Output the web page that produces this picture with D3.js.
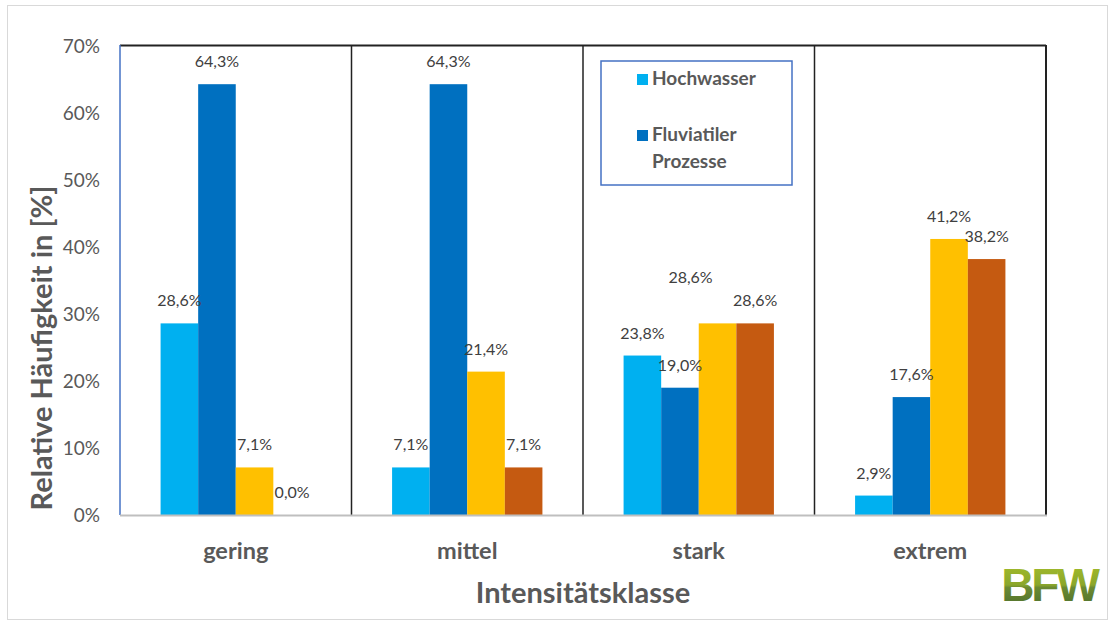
<html>
<head>
<title>Intensitaetsklasse</title>
<script src="https://cdn.jsdelivr.net/npm/d3@7"></script>
<style>
  body { margin: 0; background: #fff; }
  text { font-family: Lato, "Open Sans", sans-serif; }
</style>
</head>
<body>
<div id="chart"></div>
<script>
// data
var categories = ["gering", "mittel", "stark", "extrem"];
var seriesNames = ["Hochwasser", "Fluviatiler Prozesse", "Serie 3", "Serie 4"];
var hochwasser = [28.6, 7.1, 23.8, 2.9];
var fluviatil = [64.3, 64.3, 19.0, 17.6];
var serie3 = [7.1, 21.4, 28.6, 41.2];
var serie4 = [0.0, 7.1, 28.6, 38.2];
var yTicks = [0, 10, 20, 30, 40, 50, 60, 70];
var colors = ["#00b0f0", "#0070c0", "#ffc000", "#c55a11"];

var allSeries = [hochwasser, fluviatil, serie3, serie4];

var W = 1114, H = 624;
var plotLeft = 120, plotRight = 1046, plotTop = 46, plotBottom = 515;

var svg = d3.select("#chart").append("svg")
    .attr("width", W)
    .attr("height", H);

// outer chart border
svg.append("rect")
    .attr("x", 7.5).attr("y", 5.5)
    .attr("width", 1100).attr("height", 614)
    .attr("fill", "#fff")
    .attr("stroke", "#d9d9d9");

var x = d3.scaleBand().domain(categories).range([plotLeft, plotRight]).padding(0);
var inner = d3.scaleBand().domain(d3.range(4))
    .range([0, x.bandwidth()]).paddingOuter(1.08).paddingInner(0);
var y = d3.scaleLinear().domain([0, 70]).range([plotBottom, plotTop]);

// y axis tick labels
var yAxis = svg.append("g")
    .attr("transform", "translate(" + (plotLeft - 20) + ",0)")
    .call(d3.axisLeft(y).tickValues(yTicks).tickSize(0).tickFormat(function(d) { return d + "%"; }));
yAxis.select(".domain").remove();
yAxis.selectAll("text")
    .style("font-size", "19px")
    .style("font-family", "Lato, 'Open Sans', sans-serif")
    .attr("fill", "#595959")
    .attr("x", 0);

// bars
var rows = [];
categories.forEach(function(c, i) {
    allSeries.forEach(function(s, j) {
        rows.push({cat: c, s: j, v: s[i]});
    });
});

svg.append("g").selectAll("rect")
    .data(rows)
    .enter()
    .append("rect")
    .attr("x", function(d) { return x(d.cat) + inner(d.s); })
    .attr("width", inner.bandwidth())
    .attr("y", function(d) { return y(d.v); })
    .attr("height", function(d) { return plotBottom - y(d.v); })
    .attr("fill", function(d) { return colors[d.s]; });

// value labels
svg.append("g").selectAll("text")
    .data(rows)
    .enter()
    .append("text")
    .attr("x", function(d) {
        var cx = x(d.cat) + inner(d.s) + inner.bandwidth() / 2;
        // the yellow label in "stark" was moved by hand in the original
        if (d.cat == "stark" && d.s == 2) cx -= 27;
        return cx;
    })
    .attr("y", function(d) {
        var ty = y(d.v) - 17;
        if (d.cat == "stark" && d.s == 2) ty -= 23;
        return ty;
    })
    .attr("text-anchor", "middle")
    .style("font-size", "16px")
    .attr("fill", "#404040")
    .text(function(d) { return d.v.toFixed(1).replace(".", ",") + "%"; });

// panel frame lines
svg.append("line")
    .attr("x1", plotLeft).attr("x2", plotRight)
    .attr("y1", plotTop - 0.5).attr("y2", plotTop - 0.5)
    .attr("stroke", "#222").attr("stroke-width", 2);
categories.forEach(function(c, i) {
    if (i == 0) return;
    svg.append("line")
        .attr("x1", x(c)).attr("x2", x(c))
        .attr("y1", plotTop - 1).attr("y2", plotBottom)
        .attr("stroke", "#222").attr("stroke-width", 1.5);
});
svg.append("line")
    .attr("x1", plotRight).attr("x2", plotRight)
    .attr("y1", plotTop - 1).attr("y2", plotBottom + 1)
    .attr("stroke", "#222").attr("stroke-width", 2);
svg.append("line")
    .attr("x1", plotLeft).attr("x2", plotLeft)
    .attr("y1", plotTop - 1).attr("y2", plotBottom)
    .attr("stroke", "#4472c4").attr("stroke-width", 1.5);
svg.append("line")
    .attr("x1", plotLeft).attr("x2", plotRight + 1)
    .attr("y1", plotBottom + 0.5).attr("y2", plotBottom + 0.5)
    .attr("stroke", "#bfbfbf").attr("stroke-width", 2);

// category labels
svg.append("g").selectAll("text")
    .data(categories)
    .enter()
    .append("text")
    .attr("x", function(d) { return x(d) + x.bandwidth() / 2; })
    .attr("y", 559)
    .attr("text-anchor", "middle")
    .style("font-size", "23.5px")
    .style("font-weight", "bold")
    .attr("fill", "#595959")
    .text(function(d) { return d; });

// axis titles
svg.append("text")
    .attr("x", 583).attr("y", 603)
    .attr("text-anchor", "middle")
    .style("font-size", "29px")
    .style("font-weight", "bold")
    .attr("fill", "#595959")
    .text("Intensitätsklasse");

svg.append("text")
    .attr("transform", "translate(52,348) rotate(-90)")
    .attr("text-anchor", "middle")
    .style("font-size", "29px")
    .style("font-weight", "bold")
    .attr("fill", "#595959")
    .text("Relative Häufigkeit in [%]");

// legend
var legend = svg.append("g");
legend.append("rect")
    .attr("x", 601).attr("y", 61)
    .attr("width", 191).attr("height", 124)
    .attr("fill", "#fff")
    .attr("stroke", "#4472c4").attr("stroke-width", 1.5);
var legendLines = [["Hochwasser"], ["Fluviatiler", "Prozesse"]];
legendLines.forEach(function(lines, i) {
    var ly = 85 + i * 56;
    legend.append("rect")
        .attr("x", 637).attr("y", ly - 11)
        .attr("width", 11).attr("height", 11)
        .attr("fill", colors[i]);
    lines.forEach(function(t, k) {
        legend.append("text")
            .attr("x", 652).attr("y", ly + k * 27)
            .style("font-size", "19px")
            .style("font-weight", "bold")
            .attr("fill", "#595959")
            .text(t);
    });
});

// BFW logo
var defs = svg.append("defs");
var grad = defs.append("linearGradient")
    .attr("id", "bfwGrad")
    .attr("x1", 0).attr("y1", 0).attr("x2", 0).attr("y2", 1);
grad.append("stop").attr("offset", "0%").attr("stop-color", "#a8c02a");
grad.append("stop").attr("offset", "50%").attr("stop-color", "#8aa62c");
grad.append("stop").attr("offset", "55%").attr("stop-color", "#6b8a32");
grad.append("stop").attr("offset", "100%").attr("stop-color", "#4a6b2c");
svg.append("text")
    .attr("x", 1049).attr("y", 601)
    .attr("text-anchor", "middle")
    .style("font-family", "'Liberation Sans', Arial, sans-serif")
    .style("font-size", "46px")
    .style("font-weight", "bold")
    .style("letter-spacing", "-3px")
    .attr("fill", "url(#bfwGrad)")
    .text("BFW");
</script>
</body>
</html>
